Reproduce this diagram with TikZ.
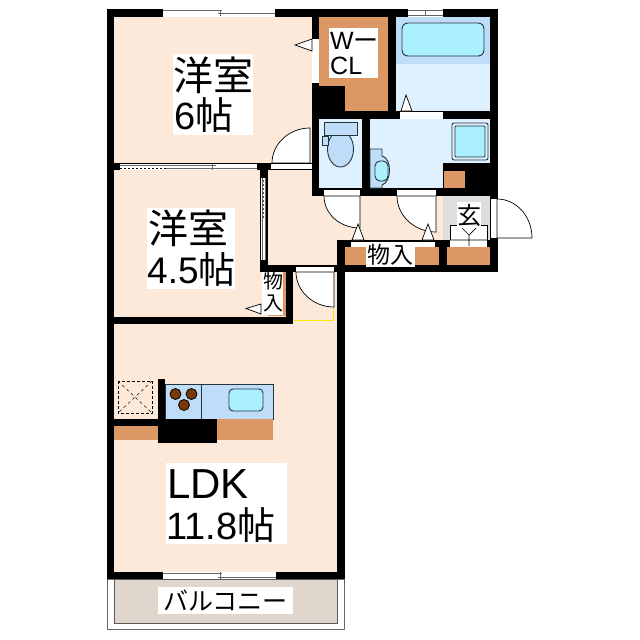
\documentclass[tikz,border=0pt]{standalone}
\usepackage{fontspec}
\setmainfont{Liberation Sans}
\newfontfamily\jp{Noto Sans CJK JP}
\definecolor{floorc}{HTML}{FDE9DA}
\definecolor{orangec}{HTML}{DB9865}
\definecolor{waterc}{HTML}{DFF0FF}
\definecolor{bluec}{HTML}{BFDCF8}
\definecolor{aquac}{HTML}{ABF0FF}
\definecolor{grayc}{HTML}{DEDEDE}
\definecolor{balc}{HTML}{E0D6CC}
\definecolor{linec}{HTML}{26343C}
\definecolor{burner}{HTML}{7A3A08}
\tikzset{
  wall/.style={fill=black,draw=none},
  openbox/.style={fill=white,draw=none},
  fixture/.style={draw=linec,line width=.9pt},
  doorpath/.style={fill=white,draw=black,line width=.7pt},
  tri/.style={fill=white,draw=black,line width=.7pt},
  sash/.style={draw=gray!80!black,line width=.8pt},
  lbl/.style={fill=white,inner sep=0pt,align=left,text=black},
}
\begin{document}
\begin{tikzpicture}[x=1pt,y=-1pt]
\useasboundingbox (0,0) rectangle (640,640);
\fill[white] (0,0) rectangle (640,640);
% floors
\fill[floorc] (114,17) -- (312,17) -- (312,196) -- (443,196) -- (443,240) -- (337,240) -- (337,572) -- (114,572) -- cycle;
% balcony
\draw[fill=white,draw=gray!80!black,line width=1pt] (107.5,579) rectangle (344,629.5);
\draw[fill=balc,draw=gray!70!black,line width=.8pt] (114,579) rectangle (337,623);
% wet rooms
\fill[orangec] (319,17) rectangle (388,111);
\fill[bluec] (396,17) rectangle (490,64);
\fill[waterc] (396,64) rectangle (490,111);
\fill[waterc] (319,119) rectangle (362,188);
\fill[waterc] (370,119) rectangle (490,188);
\fill[grayc] (443,196) rectangle (490,240);
% walls
\fill[wall] (107,9) rectangle (498,17);
\fill[wall] (107,9) rectangle (114,579);
\fill[wall] (490,9) rectangle (498,196);
\fill[wall] (312,9) rectangle (319,196);
\fill[wall] (388,17) rectangle (396,119);
\fill[wall] (312,111) rectangle (498,119);
\fill[wall] (362,119) rectangle (370,196);
\fill[wall] (312,188) rectangle (498,196);
\fill[wall] (443,163) rectangle (498,196);
\fill[wall] (319,86) rectangle (345,111);
\fill[wall] (107,163) rectangle (312,170);
\fill[wall] (258,163) rectangle (271,170);
\fill[wall] (260,170) rectangle (268,272);
\fill[wall] (260,265) rectangle (345,272);
\fill[wall] (286,265) rectangle (293,324);
\fill[wall] (107,317) rectangle (293,324);
\fill[wall] (337,240) rectangle (498,272);
\fill[wall] (337,240) rectangle (345,579);
\fill[wall] (439,240) rectangle (447,272);
\fill[wall] (490,196) rectangle (498,272);
\fill[wall] (107,572) rectangle (345,579);
% closets
\fill[orangec] (345,247) rectangle (439,265);
\fill[orangec] (447,247) rectangle (490,265);
\fill[orangec] (268,272) rectangle (286,316);
\fill[orangec] (444,171) rectangle (465,188);
% top windows
\fill[openbox] (163,9) rectangle (275,17);
\fill[openbox] (408,9) rectangle (443,17);
\draw[sash] (163,10.5) -- (222,10.5) (218,13.5) -- (275,13.5) (220,10) -- (220,16);
\draw[sash] (408,10.5) -- (443,10.5) (408,15) -- (443,15) (425,10) -- (425,16);
\fill[openbox] (163,572) rectangle (276,579);
\draw[sash] (163,573.5) -- (222,573.5) (218,577) -- (276,577) (220,572) -- (220,579);
% sliding door room 1 / room 2
\fill[openbox] (120,163.5) rectangle (257,169.5);
\draw[sash] (120,165) -- (216,165) (166,168) -- (257,168) (212,164) -- (212,170);
\draw[black,dash pattern=on 2pt off 2pt,line width=.8pt] (120,168) -- (166,168);
% sliding door room 2 / hall
\fill[openbox] (261,178) rectangle (266,260);
\draw[sash] (262,178) -- (262,260) (265,178) -- (265,260);
\draw[black!70,dash pattern=on 2pt off 2pt,line width=.8pt] (263.5,180) -- (263.5,220);
% openings
\fill[openbox] (312,39) rectangle (319,83);
\fill[openbox] (400,112) rectangle (443,119);
\fill[openbox] (324,189) rectangle (360,196);
\fill[openbox] (397,189) rectangle (436,196);
\fill[openbox] (296,266) rectangle (334,272);
\fill[openbox] (271,163) rectangle (312,170);
\fill[openbox] (351,241) rectangle (435,247);
\fill[openbox] (491,199) rectangle (497,238);
% door swings
\draw[doorpath] (310,128) .. controls (289,128) and (272,144) .. (272,163) -- (310,163) -- cycle;
\draw[doorpath] (324,196) .. controls (324,214) and (340,228) .. (360,228) -- (360,196) -- cycle;
\draw[doorpath] (397,196) .. controls (397,216) and (415,232) .. (436,232) -- (436,196) -- cycle;
\draw[doorpath] (296,272) .. controls (296,291) and (313,307) .. (334,307) -- (334,272) -- cycle;
\draw[doorpath] (497,199) .. controls (516,199) and (532,216) .. (532,238) -- (497,238) -- cycle;
\draw[line width=.7pt] (271,163.5) -- (312,163.5) (271,169.5) -- (312,169.5) (324,189) -- (360,189) (397,189) -- (436,189) (296,266) -- (334,266) (351,241) -- (435,241);
\draw[yellow!90!orange,line width=1pt] (294,320) -- (333,320) -- (333,308);
% triangles
\draw[tri] (295,45) -- (312,39) -- (312,51) -- cycle;
\draw[tri] (406,95) -- (401,111) -- (412,111) -- cycle;
\draw[tri] (358,224) -- (352,240) -- (364,240) -- cycle;
\draw[tri] (428,224) -- (422,240) -- (434,240) -- cycle;
\draw[tri] (246,308.5) -- (261,304) -- (261,314) -- cycle;
% bath, toilet, washroom
\draw[fixture,fill=aquac,rounded corners=6pt] (402,23) rectangle (484,56);
\draw[fixture,fill=bluec] (340.5,149) ellipse[x radius=13,y radius=18];
\draw[fixture,fill=bluec] (324,122) rectangle (357,135);
\draw[fixture,fill=bluec] (322,136) rectangle (328,145);
\draw[fixture,fill=waterc,rounded corners=2pt] (452,123) rectangle (488,160);
\draw[fixture,fill=aquac,rounded corners=1pt] (455,126) rectangle (485,157);
\draw[fixture,fill=bluec] (370,149) -- (382,149) -- (382,156) .. controls (392,158) and (392,182) .. (382,185) -- (382,188) -- (370,188) -- cycle;
\draw[fixture,fill=aquac,rounded corners=5pt] (375,161) rectangle (388,181);
% entry
\draw[black,fill=white,line width=.7pt] (450,246) -- (450,225) -- (487,225) -- (487,246);
\fill[white] (450,240) rectangle (487,247);
\draw[line width=.7pt] (450,240) -- (487,240) (462,228) -- (469,235) -- (476,228) (469,235) -- (469,246);
% kitchen
\draw[black,dash pattern=on 3pt off 2pt,line width=.9pt] (118,381) rectangle (152,413);
\draw[black,dash pattern=on 3pt off 3pt,line width=.5pt] (118,381) -- (152,413) (152,381) -- (118,413);
\fill[wall] (158,379) rectangle (165,426);
\draw[fixture,fill=bluec] (165,384) rectangle (273,419);
\draw[fixture] (201,384) -- (201,419);
\foreach \cx/\cy in {175.5/394,191.5/394,184/405}{\draw[black,fill=burner,line width=.8pt] (\cx,\cy) circle[radius=5.5];}
\draw[fixture,fill=aquac,rounded corners=4pt] (229,389) rectangle (263,411);
\fill[wall] (114,419) rectangle (165,426);
\fill[wall] (158,419) rectangle (217,443);
\fill[orangec] (114,426) rectangle (158,440);
\fill[orangec] (217,419) rectangle (273,440);
% labels
\node[lbl,anchor=north west,minimum width=80pt,minimum height=81pt] (r1box) at (173,54) {};
\node[inner sep=0,font=\jp\fontsize{40}{40}\selectfont,anchor=west] (r1a) at (173,75) {洋室};
\node[inner sep=0,font=\fontsize{38}{38}\selectfont,anchor=west] (r1b) at (174,115) {6{\jp 帖}};
\node[lbl,anchor=north west,minimum width=88pt,minimum height=81pt] (r2box) at (147,208) {};
\node[inner sep=0,font=\jp\fontsize{40}{40}\selectfont,anchor=west] (r2a) at (148,228) {洋室};
\node[inner sep=0,font=\fontsize{37}{37}\selectfont,anchor=west] (r2b) at (147,269) {4.5{\jp 帖}};
\node[lbl,anchor=north west,minimum width=121pt,minimum height=81pt] (ldkbox) at (166,463) {};
\node[inner sep=0,font=\fontsize{42}{42}\selectfont,anchor=west] (ldka) at (167,484) {LDK};
\node[inner sep=0,font=\fontsize{38}{38}\selectfont,anchor=west] (ldkb) at (166,525) {11.8{\jp 帖}};
\node[lbl,anchor=north west,minimum width=49pt,minimum height=50pt] (wclbox) at (329,28) {};
\node[inner sep=0,font=\fontsize{25}{25}\selectfont,anchor=west] (wcla) at (330,41) {W{\jp ー}};
\node[inner sep=0,font=\fontsize{25}{25}\selectfont,anchor=west] (wclb) at (330,66) {CL};
\node[lbl,font=\jp\fontsize{25}{25}\selectfont,anchor=center,minimum width=135pt,minimum height=27pt] (balcl) at (225.5,600.5) {バルコニー};
\node[lbl,font=\jp\fontsize{23}{23}\selectfont,anchor=center,minimum width=49pt,minimum height=24pt] (st1) at (390.5,255) {物入};
\node[lbl,font=\jp\fontsize{24}{24}\selectfont,anchor=center,minimum width=24pt,minimum height=26pt] (gen) at (469,215) {玄};
\node[lbl,anchor=north west,minimum width=21pt,minimum height=43pt] (st2box) at (262,272) {};
\node[inner sep=0,font=\jp\fontsize{20}{20}\selectfont] (st2a) at (273,281) {物};
\node[inner sep=0,font=\jp\fontsize{20}{20}\selectfont] (st2b) at (273,303) {入};
\end{tikzpicture}
\end{document}
